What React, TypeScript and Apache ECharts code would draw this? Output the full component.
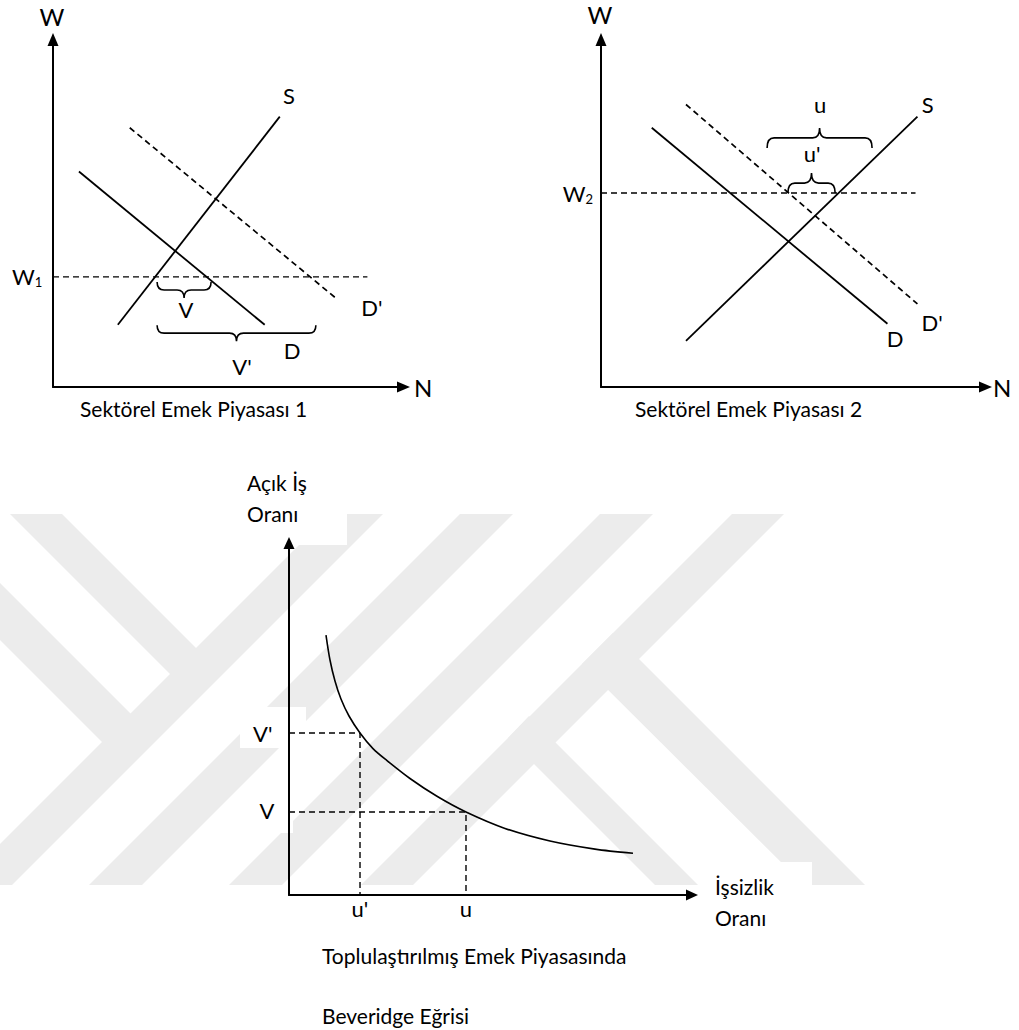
import React, { useEffect, useRef } from "react";
import * as echarts from "echarts";

const FONT = "Lato";
const FS = 21;

// ---- Panel 1: Sektörel Emek Piyasası 1 (arbitrary 0–100 units) ----
const p1Supply = [[18.5, 17.9], [64.7, 77.8]];
const p1Demand = [[7.4, 62.0], [60.4, 17.9]];
const p1DemandNew = [[21.9, 74.6], [80.9, 25.4]];
const p1Wage = [[0, 31.7], [89.7, 31.7]];
// brace: x1, x2, y, direction (1 = tip down, -1 = tip up)
const p1Braces = [[29.7, 45.1, 30.2, 1], [29.7, 75.0, 17.8, 1]];
const p1Labels: [number, number, string][] = [
  [-0.3, 106.5, "W"], [105.6, 0, "N"], [-7.4, 31.7, "W_1"],
  [67.3, 84.0, "S"], [91.0, 23.0, "D'"], [68.2, 10.6, "D"],
  [37.9, 22.2, "V"], [53.9, 5.8, "V'"],
];

// ---- Panel 2: Sektörel Emek Piyasası 2 ----
const p2Supply = [[22.1, 13.3], [82.3, 77.8]];
const p2Demand = [[13.2, 74.6], [74.5, 18.2]];
const p2DemandNew = [[22.1, 81.3], [82.3, 23.9]];
const p2Wage = [[0, 55.8], [81.8, 55.8]];
const p2Braces = [[43.2, 70.5, 68.8, -1], [48.6, 60.9, 55.8, -1]];
const p2Labels: [number, number, string][] = [
  [-0.3, 107.1, "W"], [104.3, 0, "N"], [-6.0, 55.8, "W_2"],
  [85.0, 81.2, "S"], [76.5, 14.1, "D"], [86.1, 18.7, "D'"],
  [57.0, 81.2, "u"], [54.9, 67.1, "u'"],
];

// ---- Panel 3: Beveridge Eğrisi (unemployment u, vacancy v) ----
const bevU = [9.18, 10.17, 11.41, 12.9, 14.89, 17.62, 20.84, 24.32, 30.02, 36.72, 43.92, 53.6, 64.76, 75.93, 85.36];
const bevV = [73.86, 66.76, 60.8, 55.68, 50.85, 46.02, 41.59, 38.18, 33.1, 28.04, 23.58, 18.92, 15.34, 13.04, 11.85];
const p3Guides = [[17.62, 46.02], [43.92, 23.58]]; // (u', V'), (u, V)
const p3Labels: [number, number, string][] = [
  [-6.5, 46.0, "V'"], [-5.5, 24.1, "V"], [17.6, -3.7, "u'"], [43.9, -3.7, "u"],
];
const p3AxisNames: [number, number, string][] = [
  [-10.4, 112.8, "Açık İş\nOranı"], [105.7, -2.0, "İşsizlik\nOranı"],
];

const titles = [
  "Sektörel Emek Piyasası 1",
  "Sektörel Emek Piyasası 2",
  "Toplulaştırılmış Emek Piyasasında",
  "Beveridge Eğrisi",
];

const axisCfg = (gi: number, size: number[]) => ({
  type: "value",
  gridIndex: gi,
  min: 0,
  max: 100,
  z: 5,
  axisLine: {
    show: true,
    onZero: false,
    symbol: ["none", "triangle"],
    symbolSize: size,
    lineStyle: { color: "#000", width: 2 },
  },
  axisTick: { show: false },
  axisLabel: { show: false },
  splitLine: { show: false },
});

const lineSeries = (gi: number, data: number[][], dashed: boolean, width: number) => ({
  type: "line",
  xAxisIndex: gi,
  yAxisIndex: gi,
  data,
  symbol: "none",
  silent: true,
  z: 3,
  lineStyle: { color: "#000", width, type: dashed ? [6, 4] : "solid" },
});

const braceSeries = (gi: number, data: number[][], depth: number) => ({
  type: "custom",
  xAxisIndex: gi,
  yAxisIndex: gi,
  data,
  silent: true,
  z: 3,
  renderItem: (_p: any, api: any) => {
    const a = api.coord([api.value(0), api.value(2)]);
    const b = api.coord([api.value(1), api.value(2)]);
    const dir = api.value(3);
    const x1 = a[0], x2 = b[0], y0 = a[1];
    const ym = y0 + (dir * depth) / 2;
    const yt = y0 + dir * depth;
    const xm = (x1 + x2) / 2;
    const r = Math.min(7, (x2 - x1) / 4);
    const d =
      `M${x1},${y0}Q${x1},${ym} ${x1 + r},${ym}L${xm - r},${ym}` +
      `Q${xm},${ym} ${xm},${yt}Q${xm},${ym} ${xm + r},${ym}` +
      `L${x2 - r},${ym}Q${x2},${ym} ${x2},${y0}`;
    return {
      type: "path",
      shape: { pathData: d, x: x1, y: Math.min(y0, yt), width: x2 - x1, height: depth, layout: "cover" },
      style: { fill: "none", stroke: "#000", lineWidth: 1.6 },
    };
  },
});

const mkText = (x: number, y: number, label: string, align = "center", lineHeight = 24, size = FS) => {
  const m = label.match(/^(.*)_(\d)$/);
  const style: any = {
    text: m ? `{a|${m[1]}}{b|${m[2]}}` : label,
    fill: "#000",
    fontSize: size,
    fontFamily: FONT,
    align,
    verticalAlign: "middle",
    lineHeight,
  };
  if (m) {
    style.rich = {
      a: { fontSize: size, fontFamily: FONT, lineHeight: 24, fill: "#000" },
      b: { fontSize: 13, fontFamily: FONT, lineHeight: 13, verticalAlign: "bottom", fill: "#000" },
    };
  }
  return { type: "text", x, y, z: 10, silent: true, style };
};

// Decorative background watermark bands (pixel space)
const watermark = [
  [[330, 514], [383, 514], [12, 885], [-41, 885]],
  [[460, 514], [513, 514], [142, 885], [89, 885]],
  [[600, 514], [653, 514], [282, 885], [229, 885]],
  [[732, 514], [784, 514], [413, 885], [361, 885]],
  [[10, 514], [62, 514], [222, 674], [170, 674]],
  [[0, 583], [150, 733], [120, 760], [0, 640]],
  [[613, 633], [865, 885], [804, 885], [582, 664]],
  [[529, 716], [698, 885], [655, 885], [508, 738]],
];
const whiteBoxes = [
  [236, 500, 111, 45],
  [240, 707, 66, 41],
  [240, 790, 53, 43],
  [698, 862, 114, 70],
];

export default function App() {
  const ref = useRef<HTMLDivElement>(null);
  useEffect(() => {
    if (!ref.current) return;
    const chart = echarts.init(ref.current, null, { renderer: "svg" });
    const option: any = {
      animation: false,
      backgroundColor: "#fff",
      grid: [
        { left: 53, top: 39.5, width: 350.5, height: 347.5 },
        { left: 601, top: 39.5, width: 384.5, height: 347.5 },
        { left: 289, top: 543, width: 403, height: 352 },
      ],
      xAxis: [axisCfg(0, [11, 13]), axisCfg(1, [11, 13]), axisCfg(2, [11, 12])],
      yAxis: [axisCfg(0, [11, 13]), axisCfg(1, [11, 13]), axisCfg(2, [11, 12])],
      series: [
        lineSeries(0, p1Supply, false, 1.8),
        lineSeries(0, p1Demand, false, 1.8),
        lineSeries(0, p1DemandNew, true, 1.7),
        lineSeries(0, p1Wage, true, 1.3),
        braceSeries(0, p1Braces, 16),
        lineSeries(1, p2Supply, false, 1.8),
        lineSeries(1, p2Demand, false, 1.8),
        lineSeries(1, p2DemandNew, true, 1.7),
        lineSeries(1, p2Wage, true, 1.5),
        braceSeries(1, p2Braces, 20),
        {
          ...lineSeries(2, bevU.map((u, i) => [u, bevV[i]]), false, 1.6),
          smooth: 0.3,
        },
        ...p3Guides.map(([u, v]) => lineSeries(2, [[0, v], [u, v], [u, 0]], true, 1.4)),
      ],
    };
    chart.setOption(option);

    const px = (gi: number, x: number, y: number) =>
      chart.convertToPixel({ gridIndex: gi } as any, [x, y]) as number[];

    const graphics: any[] = [];
    watermark.forEach((pts) =>
      graphics.push({ type: "polygon", z: 0, silent: true, shape: { points: pts }, style: { fill: "#ececec" } })
    );
    whiteBoxes.forEach(([x, y, w, h]) =>
      graphics.push({ type: "rect", z: 1, silent: true, shape: { x, y, width: w, height: h }, style: { fill: "#fff" } })
    );
    [p1Labels, p2Labels, p3Labels].forEach((arr, gi) =>
      arr.forEach(([x, y, t]) => {
        const p = px(gi, x, y);
        const big = t === "W" || t === "N";
        graphics.push(mkText(p[0], p[1], t, "center", 24, big ? 24 : 22));
      })
    );
    p3AxisNames.forEach(([x, y, t]) => {
      const p = px(2, x, y);
      graphics.push(mkText(p[0], p[1], t, "left", 31));
    });
    const titlePos = [[80, 408], [635, 408], [322, 955], [322, 1015]];
    titles.forEach((t, i) => graphics.push(mkText(titlePos[i][0], titlePos[i][1], t, "left")));

    chart.setOption({ graphic: graphics });
    return () => chart.dispose();
  }, []);
  return (
    <div
      ref={ref}
      style={{ position: "absolute", left: 0, top: 0, width: "1019px", height: "1030px", background: "#fff" }}
    />
  );
}
